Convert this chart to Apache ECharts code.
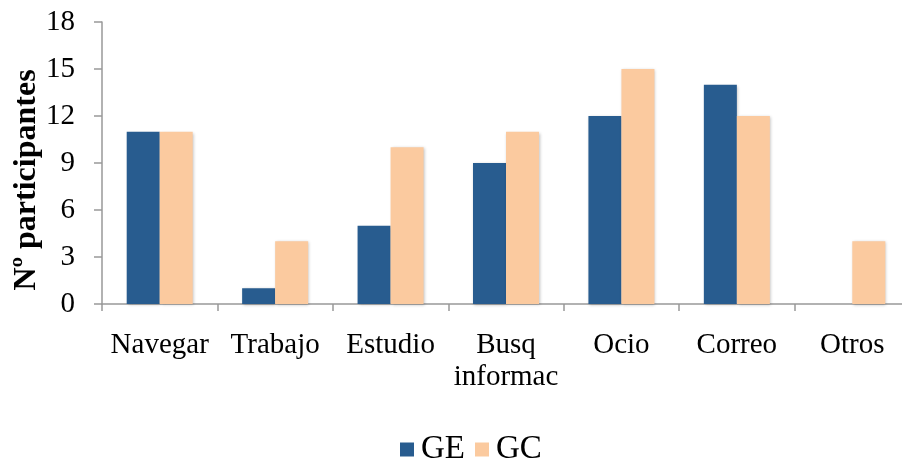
<!DOCTYPE html>
<html>
<head>
<meta charset="utf-8">
<script src="https://cdn.jsdelivr.net/npm/echarts@6/dist/echarts.min.js"></script>
<style>html,body{margin:0;padding:0;background:#fff}#c{width:902px;height:461px}</style>
</head>
<body>
<div id="c"></div>
<script>
var categories = ['Navegar', 'Trabajo', 'Estudio', 'Busq\ninformac', 'Ocio', 'Correo', 'Otros'];
var seriesGE = [11, 1, 5, 9, 12, 14, 0];
var seriesGC = [11, 4, 10, 11, 15, 12, 4];
var yTicks = [0, 3, 6, 9, 12, 15, 18];

var font = '"Liberation Serif", "Times New Roman", serif';
var chart = echarts.init(document.getElementById('c'));
chart.setOption({
  animation: false,
  textStyle: { fontFamily: font, color: '#000' },
  grid: { left: 102, top: 22, height: 282, width: 808, containLabel: false, outerBoundsMode: 'none' },
  legend: {
    data: ['GE', 'GC'],
    top: 428,
    left: 395,
    itemWidth: 14,
    itemHeight: 14,
    itemGap: 10,
    icon: 'rect',
    textStyle: { fontFamily: font, fontSize: 33, color: '#000', padding: [0, 0, 0, 2] }
  },
  xAxis: {
    type: 'category',
    data: categories,
    axisLine: { lineStyle: { color: '#999', width: 1.5 } },
    axisTick: { show: true, length: 7, lineStyle: { color: '#999', width: 1.5 } },
    axisLabel: { interval: 0, fontFamily: font, fontSize: 29, color: '#000', margin: 25, lineHeight: 32 },
    splitLine: { show: false }
  },
  yAxis: {
    type: 'value',
    min: 0, max: 18, interval: 3,
    name: 'Nº participantes',
    nameLocation: 'middle',
    nameGap: 59,
    nameMoveOverlap: false,
    nameTextStyle: { fontFamily: font, fontSize: 32, fontWeight: 'bold', color: '#000', padding: [0, 34, 0, 0] },
    axisLine: { show: true, lineStyle: { color: '#999', width: 1.5 } },
    axisTick: { show: true, length: 8, lineStyle: { color: '#999', width: 1.5 } },
    axisLabel: {
      fontFamily: font, fontSize: 29, color: '#000', margin: 27,
      formatter: function (v) { return yTicks.indexOf(v) >= 0 ? String(v) : ''; }
    },
    splitLine: { show: false }
  },
  series: [
    {
      name: 'GE', type: 'bar', data: seriesGE, barWidth: 33, barGap: '0%',
      itemStyle: { color: '#285C8F', shadowColor: 'rgba(0,0,0,0.25)', shadowBlur: 3, shadowOffsetX: 1, shadowOffsetY: 1 }
    },
    {
      name: 'GC', type: 'bar', data: seriesGC, barWidth: 33, barGap: '0%',
      itemStyle: { color: '#FBCA9F', shadowColor: 'rgba(0,0,0,0.25)', shadowBlur: 3, shadowOffsetX: 1, shadowOffsetY: 1 }
    }
  ]
});
</script>
</body>
</html>
